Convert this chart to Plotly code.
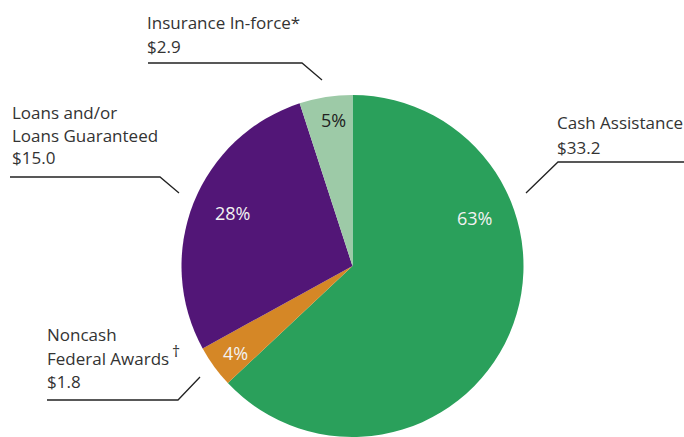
import plotly.graph_objects as go

W, H = 684, 437

categories = ["Cash Assistance", "Noncash Federal Awards", "Loans and/or Loans Guaranteed", "Insurance In-force"]
dollars = [33.2, 1.8, 15.0, 2.9]
shares = [63, 4, 28, 5]
colors = ["#2aa05b", "#d58726", "#521677", "#9dcaa7"]

def px(x):
    return x / W

def py(y):
    return 1 - y / H

cx, r = 352.5, 171
fig = go.Figure(go.Pie(
    labels=categories,
    values=shares,
    sort=False,
    direction="clockwise",
    rotation=0,
    marker=dict(colors=colors, line=dict(width=0)),
    textinfo="none",
    hoverinfo="label+value",
    showlegend=False,
    domain=dict(x=[px(cx - r), px(cx + r)], y=[0, (2 * r) / H]),
))

FONT = "Open Sans"
TXT = "#333333"
fs = 17

annotations = []

def label(lines, x, baselines):
    for t, b in zip(lines, baselines):
        annotations.append(dict(
            text=t, x=px(x), y=py(b - 6), xref="paper", yref="paper",
            xanchor="left", yanchor="middle", showarrow=False,
            font=dict(family=FONT, size=fs, color=TXT), borderpad=0,
        ))

label(["Insurance In-force*", f"${dollars[3]:.1f}"], 146, [29, 52])
label(["Loans and/or", "Loans Guaranteed", f"${dollars[2]:.1f}"], 11, [118, 141, 164])
label(["Cash Assistance", f"${dollars[0]:.1f}"], 556, [129, 153])
label(["Noncash", "Federal Awards", f"${dollars[1]:.1f}"], 46, [340, 364, 387])

# dagger mark after "Federal Awards"
annotations.append(dict(
    text="†", x=px(171), y=py(351), xref="paper", yref="paper",
    xanchor="left", yanchor="middle", showarrow=False,
    font=dict(family=FONT, size=16, color=TXT), borderpad=0,
))

pct_pos = [(474, 218, "#f2f2f2"), (235, 353, "#f2f2f2"), (232, 213, "#f2f2f2"), (333, 120, "#222222")]
for s, (x, y, c) in zip(shares, pct_pos):
    annotations.append(dict(
        text=f"{s}%", x=px(x), y=py(y), xref="paper", yref="paper",
        xanchor="center", yanchor="middle", showarrow=False,
        font=dict(family=FONT, size=18, color=c),
    ))

LC = "#222222"
lines = [
    [(148, 63), (302, 63), (322, 80)],
    [(10, 177), (160, 177), (179, 193)],
    [(526, 193), (558, 162), (684, 162)],
    [(47, 400), (178, 400), (200, 377)],
]
shapes = []
for pts in lines:
    path = "M " + " L ".join(f"{px(x)},{py(y)}" for x, y in pts)
    shapes.append(dict(type="path", path=path, xref="paper", yref="paper",
                       line=dict(color=LC, width=1.3)))

fig.update_layout(
    width=W, height=H,
    margin=dict(l=0, r=0, t=0, b=0),
    paper_bgcolor="white", plot_bgcolor="white",
    annotations=annotations, shapes=shapes,
)

fig.write_html("out.html", config={"displayModeBar": False})
